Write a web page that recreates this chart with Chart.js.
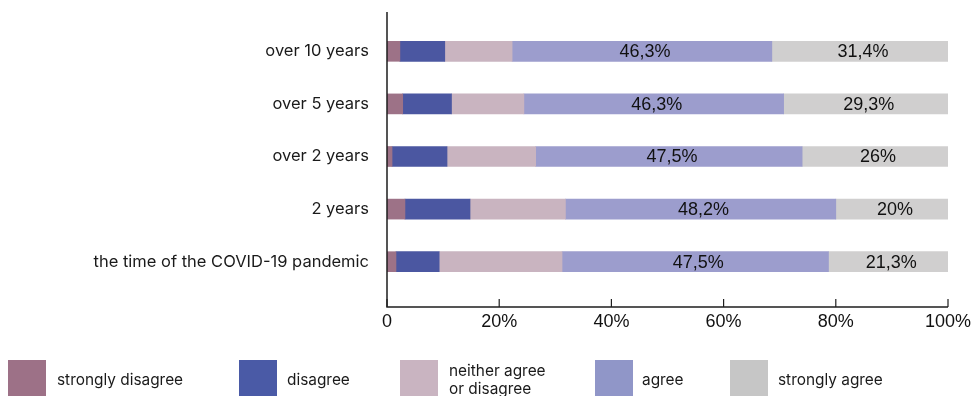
<!DOCTYPE html>
<html>
<head>
<meta charset="utf-8">
<script src="https://cdn.jsdelivr.net/npm/chart.js@4"></script>
<style>
  html, body { margin: 0; padding: 0; background: #fff; }
  #wrap { position: relative; width: 978px; height: 396px; overflow: hidden; }
  #chart { position: absolute; left: 0; top: 0; }
  .sw { position: absolute; top: 360px; width: 38px; height: 38px; }
  .lt { position: absolute; font-family: Inter, "Noto Sans", sans-serif; font-size: 15.4px; color: #1a1a1a; line-height: 18px; }
</style>
</head>
<body>
<div id="wrap">
  <canvas id="chart" width="978" height="396"></canvas>
  <div id="legend"></div>
</div>
<script>
// Survey periods (top to bottom)
const categories = [
  'over 10 years',
  'over 5 years',
  'over 2 years',
  '2 years',
  'the time of the COVID-19 pandemic'
];

// Answer shares in percent, one array per answer
const stronglyDisagree = [2.3, 2.8, 0.9, 3.2, 1.6];
const disagree         = [8.0, 8.7, 9.8, 11.6, 7.7];
const neither          = [12.0, 12.9, 15.8, 17.0, 21.9];
const agree            = [46.3, 46.3, 47.5, 48.2, 47.5];
const stronglyAgree    = [31.4, 29.3, 26.0, 20.0, 21.3];

const seriesNames = ['strongly disagree', 'disagree', 'neither agree\nor disagree', 'agree', 'strongly agree'];
const seriesValues = [stronglyDisagree, disagree, neither, agree, stronglyAgree];
const barColors = ['#9d7287', '#4b57a1', '#c9b4c0', '#9c9dcd', '#d0cfcf'];
const swatchColors = ['#9d7187', '#4a5aa6', '#c9b4c1', '#9096c8', '#c6c6c6'];
const labelledSeries = ['agree', 'strongly agree'];

// X axis tick labels
const xTicks = [0, 20, 40, 60, 80, 100];
const xTickLabels = ['0', '20%', '40%', '60%', '80%', '100%'];

const AXIS_TOP = 12;
const AXIS_BOTTOM = 307;

const datasets = seriesNames.map((name, i) => ({
  label: name,
  data: seriesValues[i],
  backgroundColor: barColors[i],
  borderWidth: 0,
  barThickness: 20
}));

// Axis lines with short inward ticks
const axisLines = {
  id: 'axisLines',
  afterDatasetsDraw(chart) {
    const { ctx, chartArea } = chart;
    const xs = chart.scales.x;
    ctx.save();
    ctx.strokeStyle = '#1e1e1e';
    ctx.lineWidth = 1.5;
    ctx.beginPath();
    ctx.moveTo(chartArea.left, AXIS_TOP);
    ctx.lineTo(chartArea.left, AXIS_BOTTOM);
    ctx.lineTo(xs.getPixelForValue(100), AXIS_BOTTOM);
    ctx.stroke();
    ctx.lineWidth = 1.2;
    xTicks.forEach(v => {
      const px = xs.getPixelForValue(v);
      ctx.beginPath();
      ctx.moveTo(px, AXIS_BOTTOM);
      ctx.lineTo(px, AXIS_BOTTOM - 8);
      ctx.stroke();
    });
    ctx.restore();
  }
};

// Value labels centred on the agree / strongly agree segments
const fmt = v => (Number.isInteger(v) ? String(v) : v.toFixed(1).replace('.', ',')) + '%';
const valueLabels = {
  id: 'valueLabels',
  afterDatasetsDraw(chart) {
    const { ctx } = chart;
    ctx.save();
    ctx.font = '18px "Liberation Sans", Arial, sans-serif';
    ctx.fillStyle = '#111';
    ctx.textAlign = 'center';
    ctx.textBaseline = 'middle';
    chart.data.datasets.forEach((ds, di) => {
      if (!labelledSeries.includes(ds.label)) return;
      chart.getDatasetMeta(di).data.forEach((el, i) => {
        const p = el.getProps(['x', 'y', 'base'], true);
        ctx.fillText(fmt(ds.data[i]), (p.x + p.base) / 2 + 3, p.y + 1);
      });
    });
    ctx.restore();
  }
};

new Chart(document.getElementById('chart'), {
  type: 'bar',
  data: { labels: categories, datasets },
  options: {
    indexAxis: 'y',
    responsive: false,
    animation: false,
    layout: { padding: { top: 25, right: 30, left: 0, bottom: 0 } },
    plugins: { legend: { display: false }, tooltip: { enabled: false } },
    scales: {
      x: {
        stacked: true,
        min: 0,
        max: 100,
        grid: { display: false, drawTicks: false },
        border: { display: false },
        afterBuildTicks(s) { s.ticks = xTicks.map(v => ({ value: v })); },
        afterFit(s) { s.height = 108; s.paddingLeft = 0; s.paddingRight = 0; },
        ticks: {
          padding: 23,
          color: '#111',
          font: { family: '"Liberation Sans", Arial, sans-serif', size: 18 },
          callback: (v) => xTickLabels[xTicks.indexOf(v)],
          maxRotation: 0
        }
      },
      y: {
        stacked: true,
        grid: { display: false, drawTicks: false },
        border: { display: false },
        afterFit(s) { s.width = 387; s.paddingTop = 0; s.paddingBottom = 0; },
        ticks: {
          padding: 18,
          color: '#1a1a1a',
          font: { family: 'Inter, "Noto Sans", sans-serif', size: 16.5 }
        }
      }
    }
  },
  plugins: [axisLines, valueLabels]
});

// Legend row under the chart
const swatchX = [8, 239, 400, 595, 730];
const textX = [57, 287, 449, 642, 778];
const legend = document.getElementById('legend');
seriesNames.forEach((name, i) => {
  const sw = document.createElement('div');
  sw.className = 'sw';
  sw.style.left = swatchX[i] + 'px';
  sw.style.background = swatchColors[i];
  legend.appendChild(sw);
  const t = document.createElement('div');
  t.className = 'lt';
  const lines = name.split('\n');
  t.style.left = textX[i] + 'px';
  t.style.top = (lines.length > 1 ? 362 : 371) + 'px';
  t.innerHTML = lines.join('<br>');
  legend.appendChild(t);
});
</script>
</body>
</html>
